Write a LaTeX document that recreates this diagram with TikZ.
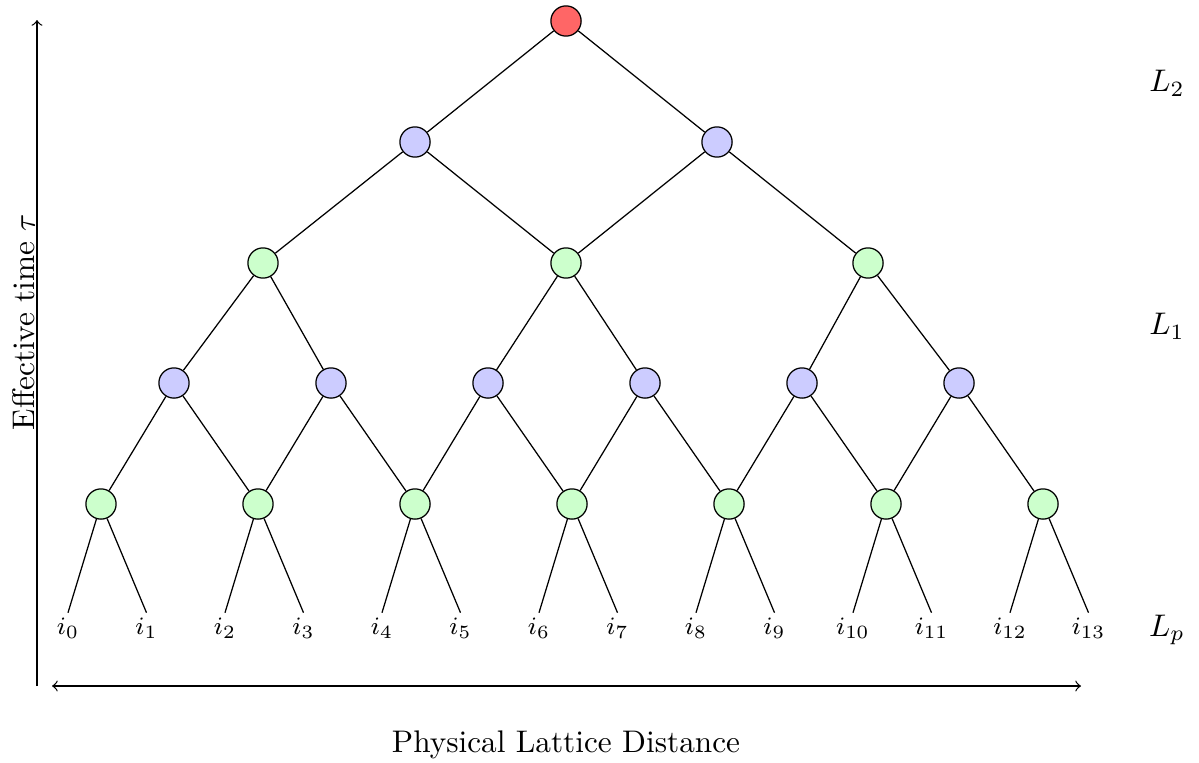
\documentclass[tikz,border=0pt]{standalone}
\usetikzlibrary{calc}
\begin{document}
\begin{tikzpicture}[x=0.01124cm,y=-0.01124cm,
  vtx/.style={circle,draw,minimum size=0.34cm,inner sep=0pt},
  rnode/.style={vtx,fill=red!60},
  bnode/.style={vtx,fill=blue!20},
  gnode/.style={vtx,fill=green!20},
  leaf/.style={font=\footnotesize,inner sep=1.5pt},
  link/.style={draw,line width=0.4pt},
  axis/.style={draw,line width=0.4pt}]
\useasboundingbox (0,0) rectangle (1199,762);
% nodes
\node[rnode] (r) at (566,21) {};
\node[bnode] (a0) at (415,142) {};
\node[bnode] (a1) at (717,142) {};
\node[gnode] (b0) at (263,263) {};
\node[gnode] (b1) at (566,263) {};
\node[gnode] (b2) at (868,263) {};
\foreach \k in {0,...,5} \node[bnode] (c\k) at ({174+157*\k},383) {};
\foreach \k in {0,...,6} \node[gnode] (d\k) at ({101+157*\k},504) {};
\foreach \k in {0,...,13} \node[leaf] (e\k) at ({68+78.5*\k},628) {$i_{\k}$};
% edges
\draw[link] (r) -- (a0);
\draw[link] (r) -- (a1);
\draw[link] (a0) -- (b0);
\draw[link] (a0) -- (b1);
\draw[link] (a1) -- (b1);
\draw[link] (a1) -- (b2);
\draw[link] (b0) -- (c0);
\draw[link] (b0) -- (c1);
\draw[link] (b1) -- (c2);
\draw[link] (b1) -- (c3);
\draw[link] (b2) -- (c4);
\draw[link] (b2) -- (c5);
\foreach \k in {0,...,5} {
  \pgfmathtruncatemacro{\n}{\k+1}
  \draw[link] (c\k) -- (d\k);
  \draw[link] (c\k) -- (d\n);
}
\foreach \k in {0,...,6} {
  \pgfmathtruncatemacro{\m}{2*\k}
  \pgfmathtruncatemacro{\n}{2*\k+1}
  \draw[link] (d\k) -- (e\m.north);
  \draw[link] (d\k) -- (e\n.north);
}
% axes
\coordinate (yb) at (37,686);
\coordinate (yt) at (37,20);
\coordinate (xl) at (52,686);
\coordinate (xr) at (1081,686);
\draw[axis,->] (yb) -- (yt);
\draw[axis,<->] (xl) -- (xr);
% labels
\node[rotate=90] (ylab) at (24,322) {Effective time $\tau$};
\node (xlab) at (566,745) {Physical Lattice Distance};
\node (l2) at (1167,83) {$L_2$};
\node (l1) at (1167,326) {$L_1$};
\node (lp) at (1167,630) {$L_p$};
\end{tikzpicture}
\end{document}
